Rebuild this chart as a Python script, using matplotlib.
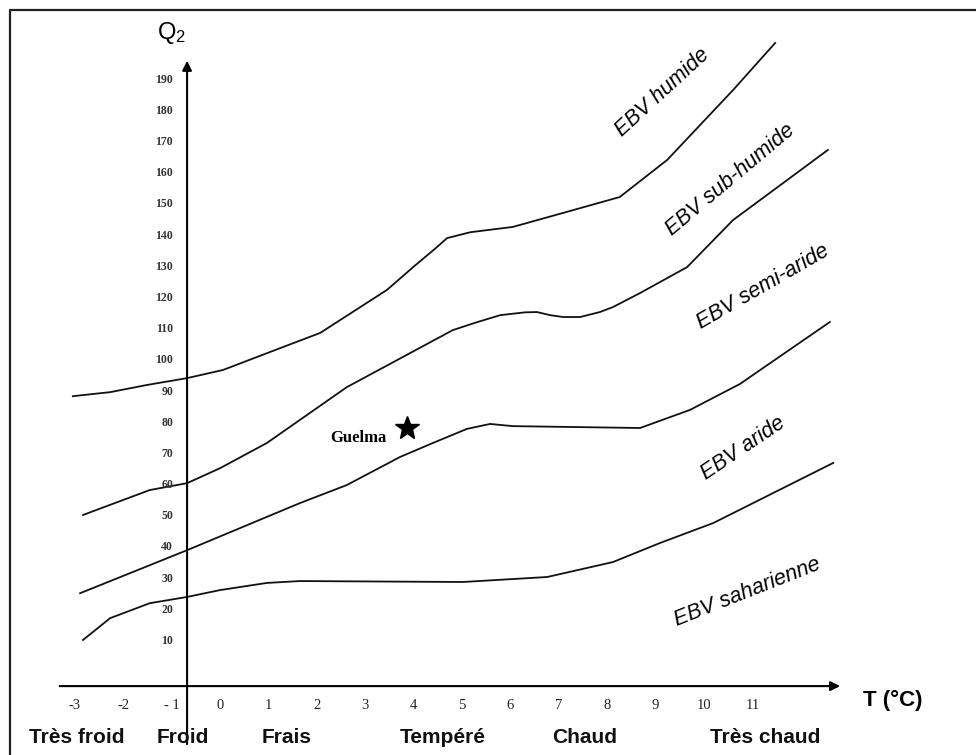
import matplotlib
matplotlib.use('Agg')
import matplotlib.pyplot as plt

plt.rcParams['mathtext.fontset'] = 'custom'
plt.rcParams['mathtext.rm'] = 'Liberation Sans'
plt.rcParams['mathtext.it'] = 'Liberation Sans'

# limites entre les etages bioclimatiques (T en degres C, Q2)
humide_t = [-3.04, -2.27, -1.51, -0.68, 0.06, 1.24, 2.07, 3.45, 3.99, 4.48, 4.69, 5.17, 6.05, 7.09, 8.26, 9.24, 10.60, 11.47]
humide_q = [88.5, 89.8, 92.1, 94.3, 96.9, 103.9, 108.8, 122.6, 129.9, 136.3, 139.2, 141.1, 142.8, 147.3, 152.4, 164.3, 186.7, 201.8]

subhumide_t = [-2.83, -1.45, -0.68, 0.0, 0.97, 2.62, 4.81, 5.3, 5.79, 6.3, 6.55, 6.82, 7.09, 7.44, 7.85, 8.12, 8.68, 9.65, 10.6, 12.56]
subhumide_q = [50.4, 58.4, 60.6, 65.4, 73.5, 91.4, 109.7, 112.2, 114.5, 115.4, 115.5, 114.5, 113.9, 113.9, 115.5, 117.1, 121.6, 129.9, 145.0, 167.5]

semiaride_t = [-2.89, -0.68, 1.65, 2.62, 3.72, 4.40, 5.1, 5.58, 6.05, 8.68, 9.71, 10.74, 12.6]
semiaride_q = [25.3, 39.1, 54.2, 60.0, 69.0, 73.5, 78.0, 79.6, 78.9, 78.3, 84.1, 92.4, 112.3]

aride_t = [-2.83, -2.27, -1.45, -0.68, 0.0, 0.97, 1.65, 5.02, 6.76, 8.12, 9.09, 10.19, 12.67]
aride_q = [10.3, 17.3, 22.1, 24.1, 26.3, 28.6, 29.2, 28.9, 30.5, 35.3, 41.4, 47.8, 67.1]

# station de Guelma
guelma_t = 3.86
guelma_q = 78.3

# graduations
y_ticks = [10, 20, 30, 40, 50, 60, 70, 80, 90, 100, 110, 120, 130, 140, 150, 160, 170, 180, 190]
x_ticks = [-3, -2, -1, 0, 1, 2, 3, 4, 5, 6, 7, 8, 9, 10, 11]
x_tick_labels = ['-3', '-2', '- 1', '0', '1', '2', '3', '4', '5', '6', '7', '8', '9', '10', '11']

# variantes thermiques
classes = ['Très froid', 'Froid', 'Frais', 'Tempéré', 'Chaud', 'Très chaud']
classes_t = [-2.95, -0.76, 1.38, 4.61, 7.54, 11.26]

# noms des etages
etages = ['EBV humide', 'EBV sub-humide', 'EBV semi-aride', 'EBV aride', 'EBV saharienne']
etages_t = [9.15, 10.54, 11.22, 10.81, 10.89]
etages_q = [185.8, 157.8, 123.5, 71.9, 25.7]
etages_rot = [42.5, 40, 30, 34, 21.6]

fig = plt.figure(figsize=(9.76, 7.55), dpi=100)
ax = fig.add_axes([0, 0, 1, 1])
ax.set_xlim(-4.545, 15.62)
ax.set_ylim(-26.6, 215.6)
ax.axis('off')

# cadre (gauche et haut)
ax.plot([-4.34, -4.34, 15.62], [-26.6, 212.4, 212.4], color='#222222', lw=1.6, clip_on=False)

# axes avec fleches
ax.annotate('', xy=(12.87, -4.5), xytext=(-3.37, -4.5),
            arrowprops=dict(arrowstyle='-|>', color='black', lw=1.5, mutation_scale=14))
ax.annotate('', xy=(-0.68, 197), xytext=(-0.68, -24),
            arrowprops=dict(arrowstyle='-|>', color='black', lw=1.5, mutation_scale=14))

# courbes limites
for t, q in [(humide_t, humide_q), (subhumide_t, subhumide_q),
             (semiaride_t, semiaride_q), (aride_t, aride_q)]:
    ax.plot(t, q, color='#111111', lw=1.3)

# graduations de l'axe Q2
for q in y_ticks:
    ax.text(-0.97, q, str(q), ha='right', va='center', fontsize=8.5,
            family='Liberation Serif', fontweight='bold', color='#333333')

# graduations de l'axe T
for t, lab in zip(x_ticks, x_tick_labels):
    ax.text(t, -10.6, lab, ha='center', va='center', fontsize=10.5,
            family='Liberation Serif', color='#222222')

for lab, t in zip(classes, classes_t):
    ax.text(t, -20.9, lab, ha='center', va='center', fontsize=15,
            family='Liberation Sans', fontweight='bold', color='#111111')

ax.text(-1.0, 205, r'$\mathrm{Q_2}$', ha='center', va='center', fontsize=17)
ax.text(13.29, -9, 'T (°C)', ha='left', va='center', fontsize=16,
        family='Liberation Sans', fontweight='bold')

for lab, t, q, r in zip(etages, etages_t, etages_q, etages_rot):
    ax.text(t, q, lab, ha='center', va='center', rotation=r, fontsize=15.5,
            family='Liberation Sans', style='italic', rotation_mode='anchor')

# Guelma
ax.plot(guelma_t, guelma_q, marker='*', color='black', markersize=18, ls='none')
ax.text(guelma_t - 0.42, guelma_q - 3.2, 'Guelma', ha='right', va='center',
        fontsize=12, family='Liberation Serif', fontweight='bold')

fig.savefig('out.png', dpi=100)
